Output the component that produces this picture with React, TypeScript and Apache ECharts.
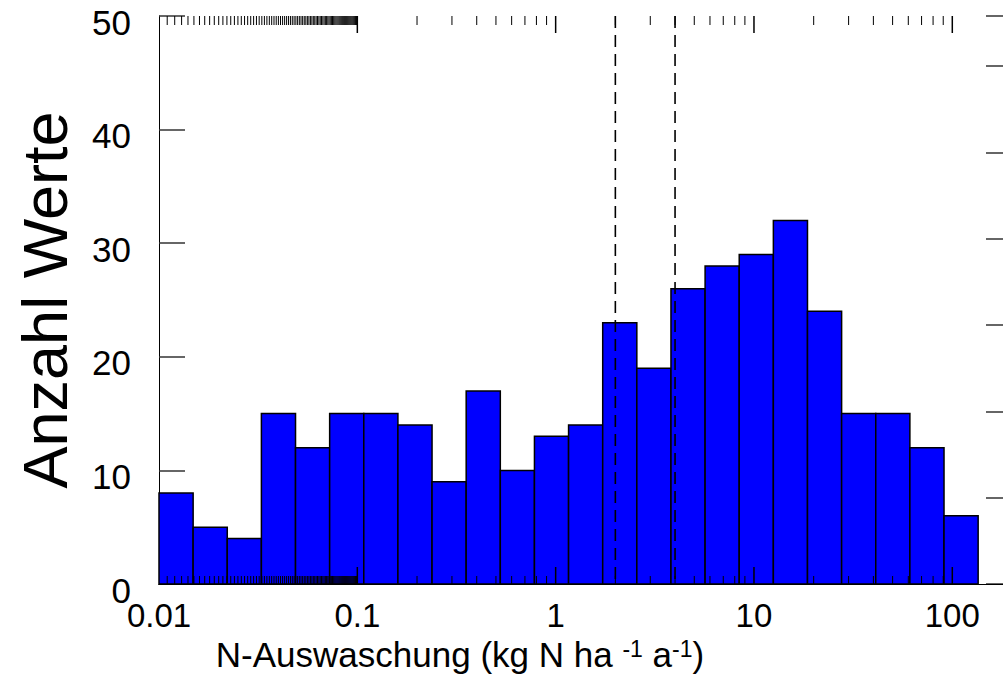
import React, { useEffect, useRef } from "react";
import * as echarts from "echarts";

// Histogram of nitrogen leaching values, log-spaced bins
const binCounts = [8, 5, 4, 15, 12, 15, 15, 14, 9, 17, 10, 13, 14, 23, 19, 26, 28, 29, 32, 24, 15, 15, 12, 6];
const binLow = 0.01;
const binHigh = 135;

// Reference values marked by dashed lines
const markerValues = [2, 4];

// Axis ranges
const xMin = 0.01;
const xMax = 200;
const yMin = 0;
const yMax = 50;
const yStep = 10;
const rightMax = 65.8;

const FONT = "'Liberation Sans', Arial, sans-serif";

function buildBins() {
  const n = binCounts.length;
  const l0 = Math.log10(binLow);
  const l1 = Math.log10(binHigh);
  return binCounts.map((c, i) => {
    const lo = Math.pow(10, l0 + ((l1 - l0) * i) / n);
    const hi = Math.pow(10, l0 + ((l1 - l0) * (i + 1)) / n);
    return [lo, hi, c];
  });
}

// Minor tick positions: fine steps in the first decade, 2..9 in the others
function buildMinorTicks() {
  const out: number[] = [];
  for (let k = 11; k <= 99; k++) out.push(k / 1000);
  [0.1, 1, 10, 100].forEach((d) => {
    for (let m = 2; m <= 9; m++) {
      const v = m * d;
      if (v < xMax) out.push(v);
    }
  });
  return out;
}

// Decade positions carrying the long ticks
const majorTicks = [0.1, 1, 10, 100];

export default function App() {
  const ref = useRef<HTMLDivElement>(null);

  useEffect(() => {
    if (!ref.current) return;
    const chart = echarts.init(ref.current, null, { renderer: "svg" });
    const bins = buildBins();
    const minorTicks = buildMinorTicks();

    const isDecade = (v: number) => {
      const l = Math.log10(v);
      return Math.abs(l - Math.round(l)) < 1e-6;
    };

    const xCommon = {
      type: "log" as const,
      logBase: 10,
      min: xMin,
      max: xMax,
      z: 10,
      splitLine: { show: false },
      axisLine: { show: true, lineStyle: { color: "#000", width: 1 } },
      axisTick: { show: false },
      minorTick: { show: false },
    };

    const tickLine = (x1: number, y1: number, x2: number, y2: number, w: number) => ({
      type: "line",
      shape: { x1, y1, x2, y2 },
      style: { stroke: "#000", lineWidth: w },
    });

    chart.setOption({
      animation: false,
      backgroundColor: "#fff",
      grid: {
        left: 159,
        top: 16,
        width: 853,
        height: 568,
        containLabel: false,
        outerBoundsMode: "none",
      },
      xAxis: [
        {
          ...xCommon,
          position: "bottom",
          axisLabel: {
            show: true,
            margin: 17,
            color: "#000",
            fontSize: 33,
            lineHeight: 28,
            fontFamily: FONT,
            formatter: (v: number) => (isDecade(v) ? String(Number(v.toPrecision(3))) : ""),
          },
        },
        {
          ...xCommon,
          position: "top",
          axisLabel: { show: false },
        },
      ],
      yAxis: [
        {
          type: "value",
          position: "left",
          min: yMin,
          max: yMax,
          interval: yStep,
          splitLine: { show: false },
          axisLine: { show: true, lineStyle: { color: "#000", width: 1 } },
          axisTick: { show: true, inside: true, length: 26, lineStyle: { color: "#333", width: 1.5 } },
          axisLabel: {
            margin: 28,
            color: "#000",
            fontSize: 35,
            lineHeight: 12,
            verticalAlign: "top",
            fontFamily: FONT,
          },
        },
        {
          type: "value",
          position: "right",
          min: 0,
          max: rightMax,
          interval: yStep,
          splitLine: { show: false },
          axisLine: { show: true, lineStyle: { color: "#000", width: 1 } },
          axisTick: { show: true, inside: true, length: 26, lineStyle: { color: "#333", width: 1.5 } },
          axisLabel: { show: false },
        },
      ],
      series: [
        {
          type: "custom",
          name: "Anzahl",
          xAxisIndex: 0,
          yAxisIndex: 0,
          z: 2,
          data: bins,
          encode: { x: [0, 1], y: 2 },
          renderItem: (params: any, api: any) => {
            const lo = api.value(0);
            const hi = api.value(1);
            const c = api.value(2);
            const p0 = api.coord([lo, c]);
            const p1 = api.coord([hi, 0]);
            return {
              type: "rect",
              shape: { x: p0[0], y: p0[1], width: p1[0] - p0[0], height: p1[1] - p0[1] },
              style: { fill: "#0000ff", stroke: "#000", lineWidth: 1.5 },
            };
          },
        },
        ...markerValues.map((v) => ({
          type: "line",
          xAxisIndex: 0,
          yAxisIndex: 0,
          z: 4,
          silent: true,
          showSymbol: false,
          symbol: "none",
          data: [
            [v, yMax],
            [v, yMin],
          ],
          lineStyle: { color: "#000", width: 1.6, type: [12, 7] },
        })),
        {
          // Tick marks along the bottom and top edges, drawn over the bars
          type: "custom",
          xAxisIndex: 0,
          yAxisIndex: 0,
          z: 6,
          silent: true,
          data: [
            ...minorTicks.map((v) => [v, 0, 0]),
            ...majorTicks.map((v) => [v, 0, 1]),
          ],
          encode: { x: 0, y: 1 },
          renderItem: (params: any, api: any) => {
            const v = api.value(0);
            const major = api.value(2) === 1;
            const b = api.coord([v, yMin]);
            const t = api.coord([v, yMax]);
            const lb = major ? 17 : 8;
            const lt = major ? 17 : 9;
            const w = major ? 1.5 : 1;
            return {
              type: "group",
              children: [
                tickLine(b[0], b[1], b[0], b[1] - lb, w),
                tickLine(t[0], t[1], t[0], t[1] + lt, w),
              ],
            };
          },
        },
      ],
      graphic: [
        {
          type: "text",
          x: 45,
          y: 300,
          rotation: Math.PI / 2,
          style: {
            text: "Anzahl Werte",
            fontSize: 63,
            fontFamily: FONT,
            fill: "#000",
            align: "center",
            verticalAlign: "middle",
          },
        },
        {
          type: "text",
          x: 460,
          y: 654,
          style: {
            text: "{n|N-Auswaschung (kg N ha }{s|-1}{n| a}{s|-1}{n|)}",
            align: "center",
            verticalAlign: "middle",
            fill: "#000",
            rich: {
              n: { fontSize: 35, lineHeight: 34, fontFamily: FONT, fill: "#000" },
              s: { fontSize: 23, lineHeight: 23, verticalAlign: "top", fontFamily: FONT, fill: "#000" },
            },
          },
        },
      ],
    });

    return () => chart.dispose();
  }, []);

  return (
    <div
      ref={ref}
      style={{ position: "fixed", left: 0, top: 0, width: 1003, height: 686, background: "#fff" }}
    />
  );
}
